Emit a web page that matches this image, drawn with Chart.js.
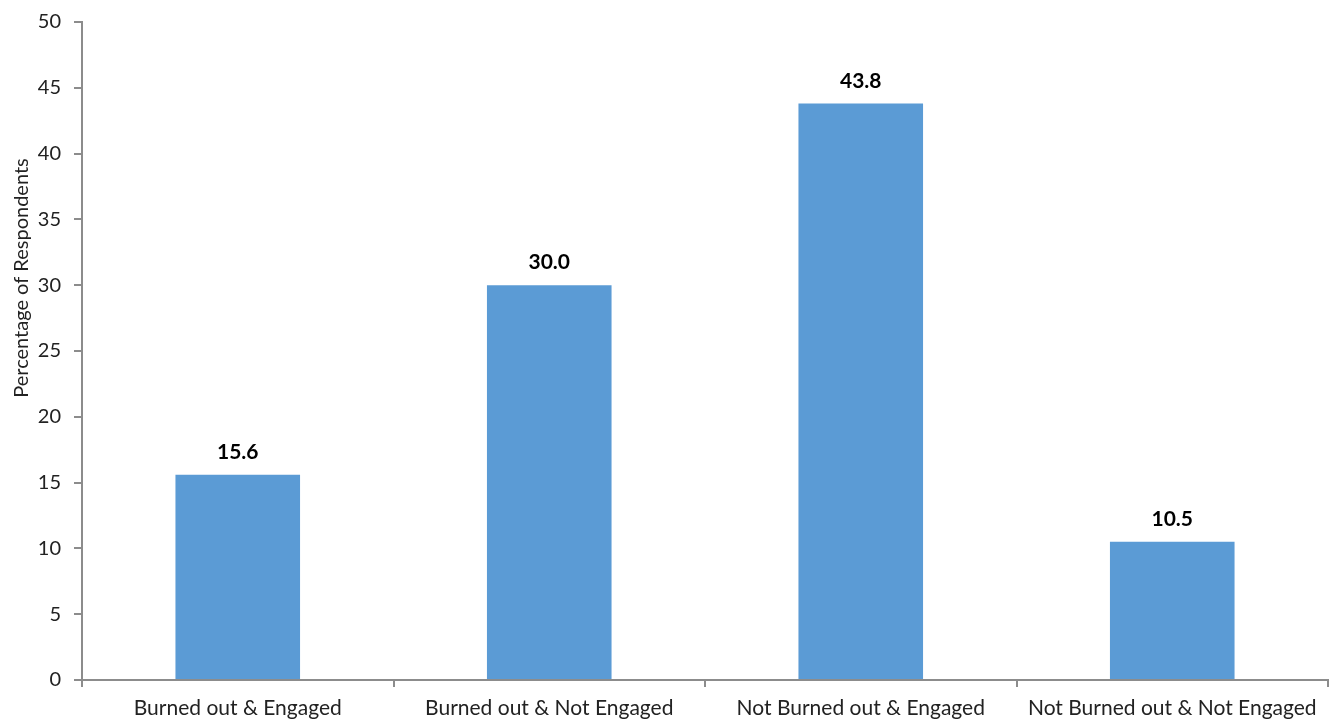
<!DOCTYPE html>
<html>
<head>
<meta charset="utf-8">
<script src="https://cdn.jsdelivr.net/npm/chart.js@4"></script>
<style>
  html, body { margin: 0; padding: 0; background: #fff; }
  #wrap { width: 1341px; height: 723px; }
</style>
</head>
<body>
<div id="wrap"><canvas id="chart" width="1341" height="723"></canvas></div>
<script>
// --- DATA ---
const categories = ['Burned out & Engaged', 'Burned out & Not Engaged', 'Not Burned out & Engaged', 'Not Burned out & Not Engaged'];
const percentages = [15.6, 30.0, 43.8, 10.5];
const yTicks = [0, 5, 10, 15, 20, 25, 30, 35, 40, 45, 50];
const yTitle = 'Percentage of Respondents';

const FONT = 'Lato, "Open Sans", sans-serif';
const AXIS_GREY = '#8c8c8c';
const TEXT = '#222';

// labels above each bar, placed from the bar elements
const valueLabels = {
    id: 'valueLabels',
    afterDatasetsDraw(chart) {
        const { ctx } = chart;
        const meta = chart.getDatasetMeta(0);
        ctx.save();
        ctx.font = 'bold 21px ' + FONT;
        ctx.fillStyle = '#000';
        ctx.textAlign = 'center';
        ctx.textBaseline = 'bottom';
        meta.data.forEach((bar, i) => {
            ctx.fillText(percentages[i].toFixed(1), bar.x, bar.y - 12);
        });
        ctx.restore();
    }
};

// y axis title sits a bit above the middle in the original, so draw it by hand
const axisTitle = {
    id: 'axisTitle',
    afterDraw(chart) {
        const { ctx } = chart;
        ctx.save();
        ctx.translate(22, 278);
        ctx.rotate(-Math.PI / 2);
        ctx.font = '20px ' + FONT;
        ctx.fillStyle = TEXT;
        ctx.textAlign = 'center';
        ctx.textBaseline = 'middle';
        ctx.fillText(yTitle, 0, 0);
        ctx.restore();
    }
};

new Chart(document.getElementById('chart'), {
    type: 'bar',
    data: {
        labels: categories,
        datasets: [{
            data: percentages,
            backgroundColor: '#5b9bd5',
            borderWidth: 0,
            categoryPercentage: 0.8,
            barPercentage: 0.5
        }]
    },
    options: {
        responsive: false,
        animation: false,
        layout: { padding: { top: 22, right: 13, left: 0, bottom: 0 } },
        plugins: { legend: { display: false }, tooltip: { enabled: false } },
        scales: {
            x: {
                afterFit: (s) => { s.height = 43; },
                grid: { offset: true, drawOnChartArea: false, drawTicks: true, tickLength: 7, color: AXIS_GREY, lineWidth: 2 },
                border: { color: AXIS_GREY, width: 2 },
                ticks: { color: TEXT, font: { family: FONT, size: 21 }, padding: 9, maxRotation: 0, autoSkip: false }
            },
            y: {
                min: 0,
                max: 50,
                afterFit: (s) => { s.width = 82; s.paddingTop = 0; s.paddingBottom = 0; },
                afterBuildTicks: (s) => { s.ticks = yTicks.map(v => ({ value: v })); },
                grid: { drawOnChartArea: false, drawTicks: true, tickLength: 8, color: AXIS_GREY, lineWidth: 2 },
                border: { color: AXIS_GREY, width: 2 },
                ticks: { color: TEXT, font: { family: FONT, size: 20, lineHeight: 1 }, padding: 13 }
            }
        }
    },
    plugins: [valueLabels, axisTitle]
});
</script>
</body>
</html>
